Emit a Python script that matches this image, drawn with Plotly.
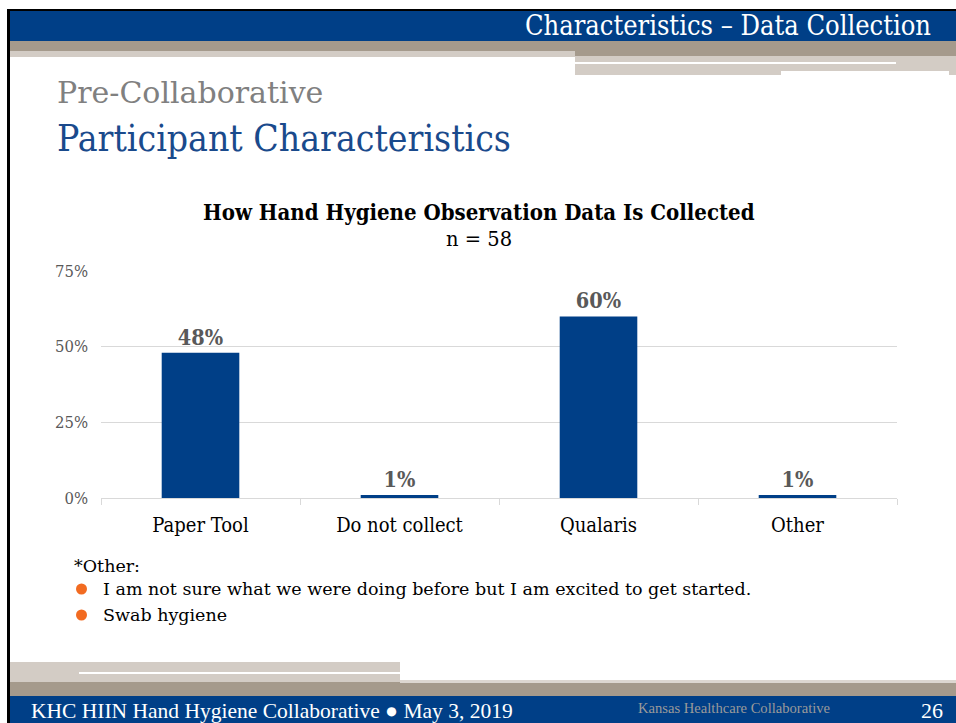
import plotly.graph_objects as go

# ---- data ----
categories = ["Paper Tool", "Do not collect", "Qualaris", "Other"]
percent_values = [48, 1, 60, 1]
y_tick_values = [0, 25, 50, 75]
y_tick_labels = ["0%", "25%", "50%", "75%"]
other_responses = [
    "I am not sure what we were doing before but I am excited to get started.",
    "Swab hygiene",
]

W, H = 956, 723
SERIF = "DejaVu Serif Condensed, DejaVu Serif, serif"
WIDE = "DejaVu Serif, serif"
NARROW = "Liberation Serif, serif"
BLUE = "#003F87"
TAN = "#A59A8C"
LTAN = "#D3CCC5"


def px(x):
    return x / W


def py(y):
    return 1 - y / H


fig = go.Figure()
fig.add_trace(go.Bar(
    x=categories,
    y=percent_values,
    marker=dict(color=BLUE, line=dict(width=0)),
    text=[f"<b>{v}%</b>" for v in percent_values],
    textposition="outside",
    textfont=dict(family=SERIF, size=21.5, color="#595959"),
    cliponaxis=False,
    hoverinfo="skip",
))

shapes = []


def rect(x0, y0, x1, y1, color):
    shapes.append(dict(type="rect", xref="paper", yref="paper",
                       x0=px(x0), x1=px(x1), y0=py(y1), y1=py(y0),
                       fillcolor=color, line=dict(width=0), layer="below"))


rect(7, 9, W, 11, "#000000")
rect(10, 11, W, 41, BLUE)
rect(10, 41, W, 51, TAN)
rect(575, 51, W, 56, TAN)
rect(10, 51, 575, 57, LTAN)
rect(575, 56, W, 75, LTAN)
rect(575, 62, 896, 64, "#FFFFFF")
rect(781, 71, 949, 75, "#FFFFFF")
rect(10, 662, 400, 682, LTAN)
rect(79, 672, 400, 674, "#FFFFFF")
rect(10, 682, 400, 696, TAN)
rect(400, 680, W, 683, "#DDD7D1")
rect(400, 683, W, 696, TAN)
rect(10, 696, W, H, BLUE)
rect(7, 9, 10, H, "#000000")

for yb in (589, 615):
    shapes.append(dict(type="circle", xref="paper", yref="paper",
                       x0=px(76), x1=px(87), y0=py(yb + 5.5), y1=py(yb - 5.5),
                       fillcolor="#F26B21", line=dict(width=0)))

annotations = []


def text(x, y, s, size, color, family=SERIF, anchor="left"):
    annotations.append(dict(xref="paper", yref="paper", x=px(x), y=py(y),
                            text=s, showarrow=False, xanchor=anchor,
                            yanchor="middle",
                            font=dict(family=family, size=size, color=color)))


text(933, 26, "Characteristics – Data Collection", 27, "#FFFFFF", SERIF, "right")
text(55, 92, "Pre-Collaborative", 30, "#808080", WIDE)
text(55, 138, "Participant Characteristics", 37, "#1A4A8C")
text(479, 212, "<b>How Hand Hygiene Observation Data Is Collected</b>", 22, "#000000", anchor="center")
text(479, 240, "n = 58", 19.5, "#000000", WIDE, "center")
text(72, 566, "*Other:", 17.5, "#000000", WIDE)
text(101, 589, other_responses[0], 17.5, "#000000", WIDE)
text(101, 615, other_responses[1], 17.5, "#000000", WIDE)
text(29, 711, "KHC HIIN Hand Hygiene Collaborative ● May 3, 2019", 21.5, "#FFFFFF", NARROW)
text(734, 708, "Kansas Healthcare Collaborative", 14.6, "#9A9A9A", NARROW, "center")
text(945, 710, "26", 22, "#FFFFFF", NARROW, "right")

fig.update_layout(
    template="none",
    width=W, height=H,
    autosize=False,
    margin=dict(l=0, r=0, t=0, b=0, pad=0),
    paper_bgcolor="#FFFFFF",
    plot_bgcolor="#FFFFFF",
    showlegend=False,
    bargap=0.61,
    shapes=shapes,
    annotations=annotations,
    xaxis=dict(
        domain=[px(101), px(897)],
        type="category",
        automargin=False,
        showline=True, linecolor="#D9D9D9", linewidth=1,
        ticks="outside", tickson="boundaries", ticklen=6,
        tickcolor="#D9D9D9",
        tickfont=dict(family=SERIF, size=20, color="#000000"),
        ticklabelstandoff=9,
        showgrid=False, zeroline=False,
        fixedrange=True,
    ),
    yaxis=dict(
        domain=[py(498), py(271)],
        range=[0, 75],
        automargin=False,
        tickvals=y_tick_values,
        ticktext=y_tick_labels,
        showgrid=True, gridcolor="#D9D9D9", gridwidth=1,
        zeroline=False, showline=False,
        ticks="",
        ticklabelstandoff=12,
        tickfont=dict(family=SERIF, size=16.5, color="#595959"),
        fixedrange=True,
    ),
)

post = "document.body.style.margin='0';document.body.style.overflow='hidden';"
fig.write_html("out.html", config={"displayModeBar": False}, post_script=post)
